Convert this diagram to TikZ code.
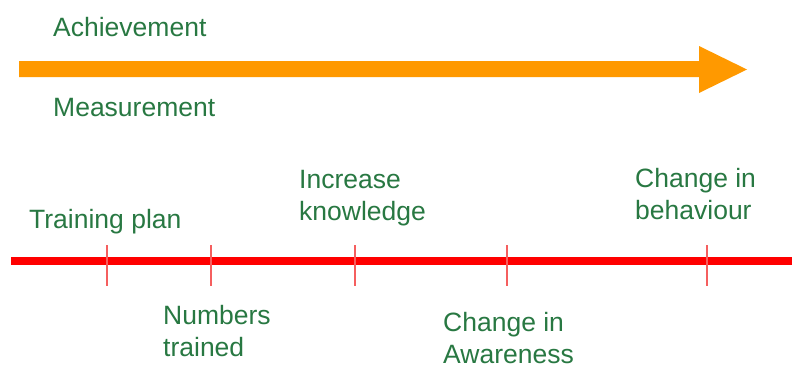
\documentclass[tikz,border=0pt]{standalone}
\usepackage{fontspec}
\setmainfont{Liberation Sans}
\definecolor{labelgreen}{RGB}{40,120,66}
\definecolor{progressorange}{RGB}{255,153,0}
\definecolor{timelinered}{RGB}{255,0,0}
\definecolor{tickred}{RGB}{245,95,95}
\tikzset{
  label text/.style={anchor=base west, inner sep=0pt, align=left, text=labelgreen,
    font=\fontsize{26.5}{31.8}\selectfont},
  timeline/.style={draw=timelinered, line width=8pt},
  tickmark/.style={draw=tickred, line width=1.2pt},
  progress/.style={fill=progressorange, draw=none}
}
\begin{document}
\begin{tikzpicture}[x=1pt,y=-1pt]
  \useasboundingbox (0,0) rectangle (792,364);

  % progress arrow with its two captions
  \fill[progress] (19,61) -- (699,61) -- (699,46) -- (747,69.5) -- (699,93) -- (699,77) -- (19,77) -- cycle;
  \node[label text] (achieve) at (53,36) {Achievement};
  \node[label text] (measure) at (53,116) {Measurement};

  % timeline with its stages (multi-line labels sit on their last baseline)
  \coordinate (tlstart) at (11,261);
  \coordinate (tlend) at (792,261);
  \draw[timeline] (tlstart) -- (tlend);
  \foreach \name/\x in {t1/107, t2/211, t3/355, t4/507, t5/707} {
    \coordinate (\name top) at (\x,245);
    \coordinate (\name bot) at (\x,286);
    \draw[tickmark] (\name top) -- (\name bot);
  }

  \node[label text] (plan) at (29,228) {Training plan};
  \node[label text] (knowledge) at (299,220) {Increase\\knowledge};
  \node[label text] (behaviour) at (635,219.5) {Change in\\behaviour};
  \node[label text] (numbers) at (163,356) {Numbers\\trained};
  \node[label text] (awareness) at (443,363.5) {Change in\\Awareness};
\end{tikzpicture}
\end{document}
